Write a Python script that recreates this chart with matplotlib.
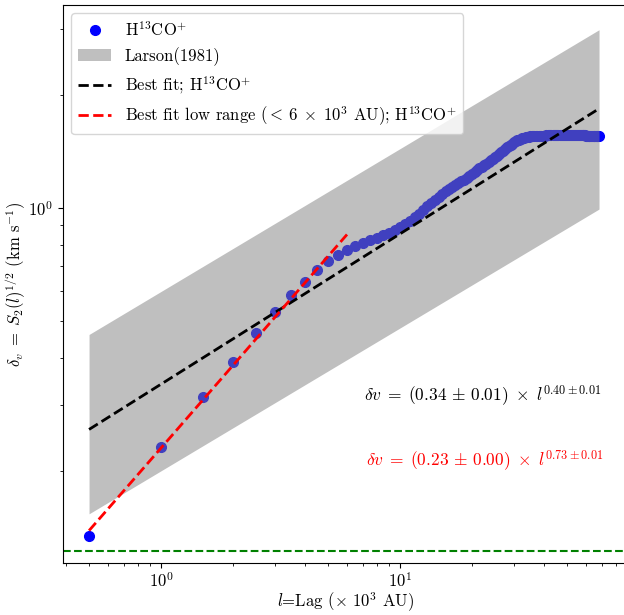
import numpy as np
import matplotlib
matplotlib.use("Agg")
import matplotlib.pyplot as plt

plt.rcParams['font.family'] = 'serif'
plt.rcParams['font.serif'] = ['cmr10']
plt.rcParams['mathtext.fontset'] = 'cm'
plt.rcParams['axes.formatter.use_mathtext'] = True
plt.rcParams['axes.unicode_minus'] = False

# lag in units of 10^3 AU
lag = np.arange(0.5, 68.5, 0.5)

# structure function sqrt(S2) (km/s)
dv = [
    0.134, 0.231, 0.314, 0.389, 0.465, 0.529, 0.587, 0.636, 0.684, 0.723,
    0.751, 0.773, 0.793, 0.807, 0.820, 0.834, 0.847, 0.860, 0.873, 0.890,
    0.906, 0.925, 0.944, 0.964, 0.988, 1.011, 1.030, 1.052, 1.072, 1.090,
    1.107, 1.122, 1.136, 1.150, 1.163, 1.177, 1.190, 1.203, 1.215, 1.232,
    1.248, 1.262, 1.275, 1.288, 1.301, 1.314, 1.326, 1.340, 1.352, 1.365,
    1.379, 1.393, 1.408, 1.423, 1.438, 1.451, 1.463, 1.474, 1.485, 1.496,
    1.505, 1.514, 1.522, 1.529, 1.535, 1.540, 1.544, 1.547, 1.550, 1.552,
    1.554, 1.555, 1.556, 1.557, 1.558, 1.558, 1.559, 1.559, 1.560, 1.560,
    1.560, 1.561, 1.561, 1.561, 1.562, 1.562, 1.562, 1.562, 1.563, 1.563,
    1.563, 1.563, 1.563, 1.563, 1.563, 1.563, 1.563, 1.563, 1.563, 1.563,
    1.563, 1.563, 1.563, 1.563, 1.563, 1.563, 1.563, 1.563, 1.563, 1.563,
    1.563, 1.563, 1.562, 1.562, 1.562, 1.562, 1.561, 1.561, 1.561, 1.560,
    1.560, 1.560, 1.559, 1.559, 1.559, 1.558, 1.558, 1.558, 1.557, 1.557,
    1.557, 1.557, 1.556, 1.556, 1.556, 1.556,
]

# fit parameters
fit_all = (0.34, 0.40)
fit_low = (0.23, 0.73)
low_cut = 6.0
# Larson (1981) band: coefficient range and exponent
larson_lo, larson_hi, larson_exp = 0.2, 0.6, 0.38
noise_level = 0.1224

fig = plt.figure(figsize=(6.24, 6.15), dpi=100)
ax = fig.add_axes([63 / 624, 52 / 615, 565 / 624, 558 / 615])

ax.plot(lag, dv, 'o', color='blue', markersize=7, zorder=2,
        label=r'H$^{13}$CO$^{+}$')
ax.fill_between(lag, larson_lo * lag ** larson_exp, larson_hi * lag ** larson_exp,
                color='gray', alpha=0.5, lw=0, zorder=3, label='Larson(1981)')
ax.plot(lag, fit_all[0] * lag ** fit_all[1], '--', color='black', lw=2, zorder=4,
        label=r'Best fit; H$^{13}$CO$^{+}$')
low = lag[lag <= low_cut]
ax.plot(low, fit_low[0] * low ** fit_low[1], '--', color='red', lw=2, zorder=4,
        label=r'Best fit low range ($<\,6\;\times\;10^3$ AU); H$^{13}$CO$^{+}$')
ax.axhline(noise_level, color='green', ls='--', lw=1.5)

ax.set_xscale('log')
ax.set_yscale('log')
ax.set_xlim(0.389, 89.9)
ax.set_ylim(0.1137, 3.47)

ax.set_xlabel(r'$l$=Lag ($\times$ 10$^3$ AU)', fontsize=12, labelpad=1)
ax.set_ylabel(r'$\delta_v\;=\;S_2(l)^{1/2}$ (km s$^{-1}$)', fontsize=12, labelpad=0)
ax.tick_params(labelsize=12)
ax.tick_params(axis='x', pad=2)

ax.text(0.742, 0.301,
        r'$\delta v\;=\;(0.34\,\pm\,0.01)\;\times\;l^{0.40\pm0.01}$',
        transform=ax.transAxes, ha='center', va='center', fontsize=12.5, color='black')
ax.text(0.747, 0.183,
        r'$\delta v\;=\;(0.23\,\pm\,0.00)\;\times\;l^{0.73\pm0.01}$',
        transform=ax.transAxes, ha='center', va='center', fontsize=12.5, color='red')

ax.legend(loc='upper left', fontsize=12)

fig.savefig('out.png', dpi=100)
